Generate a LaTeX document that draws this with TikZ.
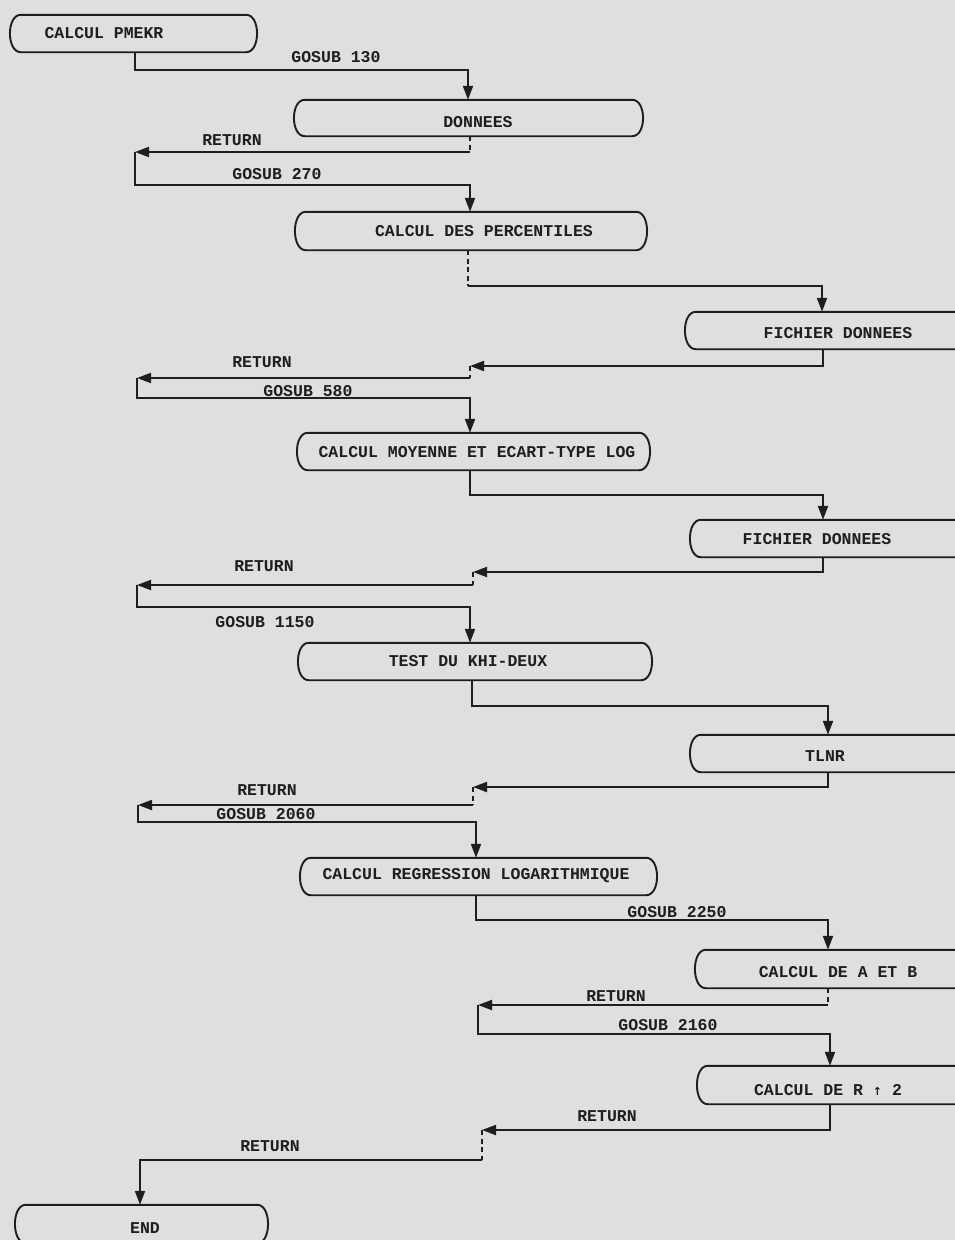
\documentclass[tikz,border=0pt]{standalone}
\usepackage{fontspec}
\newfontfamily\lmono{Liberation Mono}
\newfontfamily\dvsans{DejaVu Sans}
\usetikzlibrary{arrows.meta,calc,fit}
\definecolor{bg}{RGB}{221,224,223}
\definecolor{ink}{RGB}{30,30,30}
\tikzset{
  boxn/.style={rectangle,inner sep=0pt,draw=none},
  boxline/.style={draw=ink,line width=1.9pt,line join=round},
  lab/.style={font=\lmono\bfseries\fontsize{16.5}{16.5}\selectfont,text=ink,inner sep=0pt},
  flow/.style={draw=ink,line width=2pt,line join=miter,-{Triangle[length=14pt,width=10pt]}},
  dsh/.style={draw=ink,line width=1.7pt,dash pattern=on 5pt off 3.5pt}
}
\newcommand\tboxout[1]{%
  \draw[boxline] ($(#1.north west)+(11,0)$) -- ($(#1.north east)+(-11,0)$)
    .. controls ($(#1.north east)+(3.5,0)$) and ($(#1.south east)+(3.5,0)$) .. ($(#1.south east)+(-11,0)$)
    -- ($(#1.south west)+(11,0)$)
    .. controls ($(#1.south west)+(-3.5,0)$) and ($(#1.north west)+(-3.5,0)$) .. cycle;}
\begin{document}
\begin{tikzpicture}[x=1pt,y=-1pt]
\fill[bg] (0,0) rectangle (955,1240);
\useasboundingbox (0,0) rectangle (955,1240);
\clip (0,0) rectangle (955,1240);

% boxes
\node[boxn,fit={(10,15)(257,52)}] (b1) {};
\node[boxn,fit={(294,100)(643,136)}] (b2) {};
\node[boxn,fit={(295,212)(647,250)}] (b3) {};
\node[boxn,fit={(685,312)(1000,349)}] (b4) {};
\node[boxn,fit={(297,433)(650,470)}] (b5) {};
\node[boxn,fit={(690,520)(1000,557)}] (b6) {};
\node[boxn,fit={(298,643)(652,680)}] (b7) {};
\node[boxn,fit={(690,735)(1000,772)}] (b8) {};
\node[boxn,fit={(300,858)(657,895)}] (b9) {};
\node[boxn,fit={(695,950)(1000,988)}] (b10) {};
\node[boxn,fit={(697,1066)(1000,1104)}] (b11) {};
\node[boxn,fit={(15,1205)(268,1243)}] (b12) {};
\foreach \b in {b1,b2,b3,b4,b5,b6,b7,b8,b9,b10,b11,b12}{\tboxout{\b}}

% box texts
\node[lab] (t1) at (104,33) {CALCUL PMEKR};
\node[lab] (t2) at (478,122) {DONNEES};
\node[lab] (t3) at (484,231) {CALCUL DES PERCENTILES};
\node[lab] (t4) at (838,333) {FICHIER DONNEES};
\node[lab] (t5) at (477,452) {CALCUL MOYENNE ET ECART-TYPE LOG};
\node[lab] (t6) at (817,539) {FICHIER DONNEES};
\node[lab] (t7) at (468,661) {TEST DU KHI-DEUX};
\node[lab] (t8) at (825,756) {TLNR};
\node[lab] (t9) at (476,876) {CALCUL REGRESSION LOGARITHMIQUE};
\node[lab] (t10) at (838,972) {CALCUL DE A ET B};
\node[lab] (t11) at (828,1090) {CALCUL DE R {\dvsans\fontsize{11}{11}\selectfont ↑} 2};
\node[lab] (t12) at (145,1228) {END};

% connector labels
\node[lab] (l1) at (336,57) {GOSUB 130};
\node[lab] (l2) at (232,140) {RETURN};
\node[lab] (l3) at (277,174) {GOSUB 270};
\node[lab] (l4) at (262,362) {RETURN};
\node[lab] (l5) at (308,391) {GOSUB 580};
\node[lab] (l6) at (264,566) {RETURN};
\node[lab] (l7) at (265,622) {GOSUB 1150};
\node[lab] (l8) at (267,790) {RETURN};
\node[lab] (l9) at (266,814) {GOSUB 2060};
\node[lab] (l10) at (677,912) {GOSUB 2250};
\node[lab] (l11) at (616,996) {RETURN};
\node[lab] (l12) at (668,1025) {GOSUB 2160};
\node[lab] (l13) at (607,1116) {RETURN};
\node[lab] (l14) at (270,1146) {RETURN};

% coordinates
\coordinate (r1) at (135,152);
\coordinate (k1) at (468,70);
\coordinate (d1) at (470,152);
\coordinate (k2) at (470,185);
\coordinate (d2) at (468,286);
\coordinate (k3) at (822,286);
\coordinate (k4) at (823,366);
\coordinate (a4) at (470,366);
\coordinate (d3) at (470,378);
\coordinate (r2) at (137,378);
\coordinate (k5) at (470,398);
\coordinate (k6) at (470,495);
\coordinate (k7) at (823,495);
\coordinate (k8) at (823,572);
\coordinate (a8) at (473,572);
\coordinate (d4) at (473,585);
\coordinate (r3) at (137,585);
\coordinate (k9) at (470,607);
\coordinate (k10) at (472,706);
\coordinate (k11) at (828,706);
\coordinate (k12) at (828,787);
\coordinate (a12) at (473,787);
\coordinate (d5) at (473,805);
\coordinate (r4) at (138,805);
\coordinate (k13) at (476,822);
\coordinate (k14) at (476,920);
\coordinate (k15) at (828,920);
\coordinate (k16) at (828,1005);
\coordinate (r5) at (478,1005);
\coordinate (k17) at (830,1034);
\coordinate (k18) at (830,1130);
\coordinate (a18) at (482,1130);
\coordinate (d6) at (482,1160);
\coordinate (k19) at (140,1160);

% connectors
\draw[flow] (b1.south -| r1) |- (k1) -- (k1 |- b2.north);
\draw[dsh] (b2.south -| d1) -- (d1);
\draw[flow] (d1) -- (r1);
\draw[flow] (r1) |- (k2) -- (k2 |- b3.north);
\draw[dsh] (b3.south -| d2) -- (d2);
\draw[flow] (d2) -- (k3) -- (k3 |- b4.north);
\draw[flow] (b4.south -| k4) -- (k4) -- (a4);
\draw[dsh] (a4) -- (d3);
\draw[flow] (d3) -- (r2);
\draw[flow] (r2) |- (k5) -- (k5 |- b5.north);
\draw[flow] (b5.south -| k6) -- (k6) -- (k7) -- (k7 |- b6.north);
\draw[flow] (b6.south -| k8) -- (k8) -- (a8);
\draw[dsh] (a8) -- (d4);
\draw[flow] (d4) -- (r3);
\draw[flow] (r3) |- (k9) -- (k9 |- b7.north);
\draw[flow] (b7.south -| k10) -- (k10) -- (k11) -- (k11 |- b8.north);
\draw[flow] (b8.south -| k12) -- (k12) -- (a12);
\draw[dsh] (a12) -- (d5);
\draw[flow] (d5) -- (r4);
\draw[flow] (r4) |- (k13) -- (k13 |- b9.north);
\draw[flow] (b9.south -| k14) -- (k14) -- (k15) -- (k15 |- b10.north);
\draw[dsh] (b10.south -| k16) -- (k16);
\draw[flow] (k16) -- (r5);
\draw[flow] (r5) |- (k17) -- (k17 |- b11.north);
\draw[flow] (b11.south -| k18) -- (k18) -- (a18);
\draw[dsh] (a18) -- (d6);
\draw[flow] (d6) -- (k19) -- (k19 |- b12.north);
\end{tikzpicture}
\end{document}
